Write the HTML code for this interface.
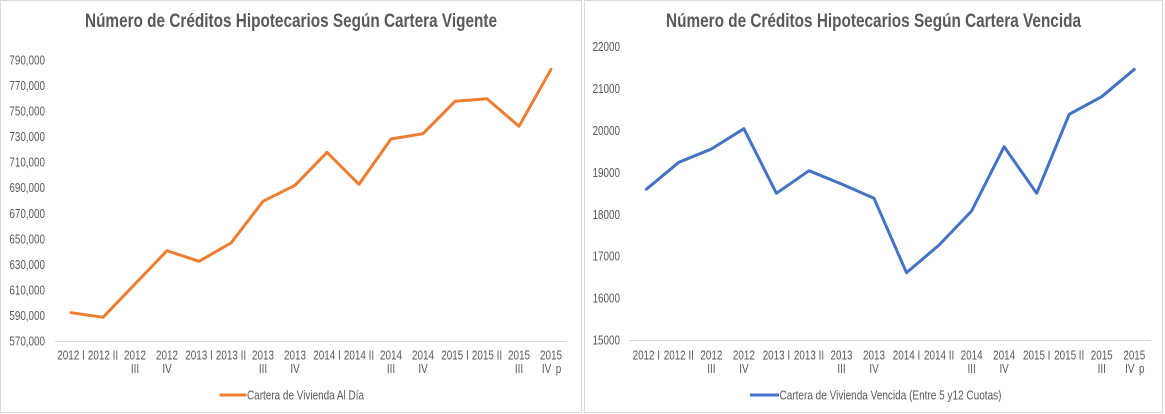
<!DOCTYPE html>
<html>
<head>
<meta charset="utf-8">
<style>
  html,body{margin:0;padding:0;background:#fff;}
  svg{display:block;}
  text{font-family:"Liberation Sans", Arial, sans-serif; fill:#595959;}
  .t{font-size:19.5px;font-weight:bold;}
  .l{font-size:12.5px;}
</style>
</head>
<body>
<svg width="1165" height="414" viewBox="0 0 1165 414" xmlns="http://www.w3.org/2000/svg">
  <rect x="0" y="0" width="1165" height="414" fill="#fff"/>
  <!-- panel borders -->
  <rect x="0.5" y="0.5" width="581" height="412" fill="none" stroke="#d9d9d9" stroke-width="1"/>
  <rect x="584.5" y="0.5" width="578" height="412" fill="none" stroke="#d9d9d9" stroke-width="1"/>

  <!-- ============ LEFT CHART ============ -->
  <text class="t" x="85" y="27" textLength="412" lengthAdjust="spacingAndGlyphs">Número de Créditos Hipotecarios Según Cartera Vigente</text>

  <!-- y labels -->
  <g class="l" text-anchor="end">
    <text transform="translate(45 64.5) scale(0.79 1)">790,000</text>
    <text transform="translate(45 90.05) scale(0.79 1)">770,000</text>
    <text transform="translate(45 115.6) scale(0.79 1)">750,000</text>
    <text transform="translate(45 141.1) scale(0.79 1)">730,000</text>
    <text transform="translate(45 166.7) scale(0.79 1)">710,000</text>
    <text transform="translate(45 192.2) scale(0.79 1)">690,000</text>
    <text transform="translate(45 217.8) scale(0.79 1)">670,000</text>
    <text transform="translate(45 243.3) scale(0.79 1)">650,000</text>
    <text transform="translate(45 268.9) scale(0.79 1)">630,000</text>
    <text transform="translate(45 294.4) scale(0.79 1)">610,000</text>
    <text transform="translate(45 319.95) scale(0.79 1)">590,000</text>
    <text transform="translate(45 345.5) scale(0.79 1)">570,000</text>
  </g>

  <!-- axis -->
  <line x1="55" y1="341.5" x2="567" y2="341.5" stroke="#d9d9d9" stroke-width="1"/>

  <!-- x labels -->
  <g class="l" text-anchor="middle">
    <text transform="translate(71 359.5) scale(0.79 1)">2012 I</text>
    <text transform="translate(103 359.5) scale(0.79 1)">2012 II</text>
    <text transform="translate(135 359.5) scale(0.79 1)">2012</text>
    <text transform="translate(135 373) scale(0.79 1)">III</text>
    <text transform="translate(167 359.5) scale(0.79 1)">2012</text>
    <text transform="translate(167 373) scale(0.79 1)">IV</text>
    <text transform="translate(199 359.5) scale(0.79 1)">2013 I</text>
    <text transform="translate(231 359.5) scale(0.79 1)">2013 II</text>
    <text transform="translate(263 359.5) scale(0.79 1)">2013</text>
    <text transform="translate(263 373) scale(0.79 1)">III</text>
    <text transform="translate(295 359.5) scale(0.79 1)">2013</text>
    <text transform="translate(295 373) scale(0.79 1)">IV</text>
    <text transform="translate(327 359.5) scale(0.79 1)">2014 I</text>
    <text transform="translate(359 359.5) scale(0.79 1)">2014 II</text>
    <text transform="translate(391 359.5) scale(0.79 1)">2014</text>
    <text transform="translate(391 373) scale(0.79 1)">III</text>
    <text transform="translate(423 359.5) scale(0.79 1)">2014</text>
    <text transform="translate(423 373) scale(0.79 1)">IV</text>
    <text transform="translate(455 359.5) scale(0.79 1)">2015 I</text>
    <text transform="translate(487 359.5) scale(0.79 1)">2015 II</text>
    <text transform="translate(519 359.5) scale(0.79 1)">2015</text>
    <text transform="translate(519 373) scale(0.79 1)">III</text>
    <text transform="translate(551 359.5) scale(0.79 1)">2015</text>
    <text transform="translate(546.5 373) scale(0.79 1)">IV</text>
    <text transform="translate(558.5 373) scale(0.79 1)">p</text>
  </g>

  <!-- series -->
  <polyline fill="none" stroke="#ED7D31" stroke-width="3" stroke-linejoin="round" stroke-linecap="round"
    points="71,312.7 103,317.3 135,284 167,250.7 199,261.3 231,243 263,201.3 295,185.3 327,152.3 359,184.3 391,139 423,133.7 455,101.3 487,98.7 519,126.3 551,69.3"/>

  <!-- legend -->
  <line x1="219.5" y1="395" x2="246.5" y2="395" stroke="#ED7D31" stroke-width="3"/>
  <text class="l" x="247" y="399.5" textLength="117" lengthAdjust="spacingAndGlyphs">Cartera de Vivienda Al Día</text>

  <!-- ============ RIGHT CHART ============ -->
  <text class="t" x="666" y="27" textLength="415" lengthAdjust="spacingAndGlyphs">Número de Créditos Hipotecarios Según Cartera Vencida</text>

  <g class="l" text-anchor="end">
    <text transform="translate(620 51.2) scale(0.79 1)">22000</text>
    <text transform="translate(620 93.1) scale(0.79 1)">21000</text>
    <text transform="translate(620 135) scale(0.79 1)">20000</text>
    <text transform="translate(620 176.9) scale(0.79 1)">19000</text>
    <text transform="translate(620 218.8) scale(0.79 1)">18000</text>
    <text transform="translate(620 260.7) scale(0.79 1)">17000</text>
    <text transform="translate(620 302.6) scale(0.79 1)">16000</text>
    <text transform="translate(620 344.5) scale(0.79 1)">15000</text>
  </g>

  <line x1="629" y1="340.5" x2="1151" y2="340.5" stroke="#d9d9d9" stroke-width="1"/>

  <g class="l" text-anchor="middle">
    <text transform="translate(646.3 359.5) scale(0.79 1)">2012 I</text>
    <text transform="translate(678.8 359.5) scale(0.79 1)">2012 II</text>
    <text transform="translate(711.4 359.5) scale(0.79 1)">2012</text>
    <text transform="translate(711.4 373) scale(0.79 1)">III</text>
    <text transform="translate(743.9 359.5) scale(0.79 1)">2012</text>
    <text transform="translate(743.9 373) scale(0.79 1)">IV</text>
    <text transform="translate(776.4 359.5) scale(0.79 1)">2013 I</text>
    <text transform="translate(809 359.5) scale(0.79 1)">2013 II</text>
    <text transform="translate(841.5 359.5) scale(0.79 1)">2013</text>
    <text transform="translate(841.5 373) scale(0.79 1)">III</text>
    <text transform="translate(874 359.5) scale(0.79 1)">2013</text>
    <text transform="translate(874 373) scale(0.79 1)">IV</text>
    <text transform="translate(906.5 359.5) scale(0.79 1)">2014 I</text>
    <text transform="translate(939.1 359.5) scale(0.79 1)">2014 II</text>
    <text transform="translate(971.6 359.5) scale(0.79 1)">2014</text>
    <text transform="translate(971.6 373) scale(0.79 1)">III</text>
    <text transform="translate(1004.1 359.5) scale(0.79 1)">2014</text>
    <text transform="translate(1004.1 373) scale(0.79 1)">IV</text>
    <text transform="translate(1036.7 359.5) scale(0.79 1)">2015 I</text>
    <text transform="translate(1069.2 359.5) scale(0.79 1)">2015 II</text>
    <text transform="translate(1101.7 359.5) scale(0.79 1)">2015</text>
    <text transform="translate(1101.7 373) scale(0.79 1)">III</text>
    <text transform="translate(1134.3 359.5) scale(0.79 1)">2015</text>
    <text transform="translate(1129.8 373) scale(0.79 1)">IV</text>
    <text transform="translate(1141.8 373) scale(0.79 1)">p</text>
  </g>

  <polyline fill="none" stroke="#4472C4" stroke-width="3" stroke-linejoin="round" stroke-linecap="round"
    points="646.3,189.3 678.8,162.3 711.4,149 743.9,128.7 776.4,193.3 809,170.7 841.5,184 874,198.3 906.5,272.7 939.1,245 971.6,211 1004.1,146.7 1036.7,193.3 1069.2,114.3 1101.7,96.7 1134.3,69.3"/>

  <line x1="750" y1="395" x2="779" y2="395" stroke="#4472C4" stroke-width="3"/>
  <text class="l" x="779.5" y="399.5" textLength="222" lengthAdjust="spacingAndGlyphs">Cartera de Vivienda Vencida (Entre 5 y12 Cuotas)</text>
</svg>
</body>
</html>
